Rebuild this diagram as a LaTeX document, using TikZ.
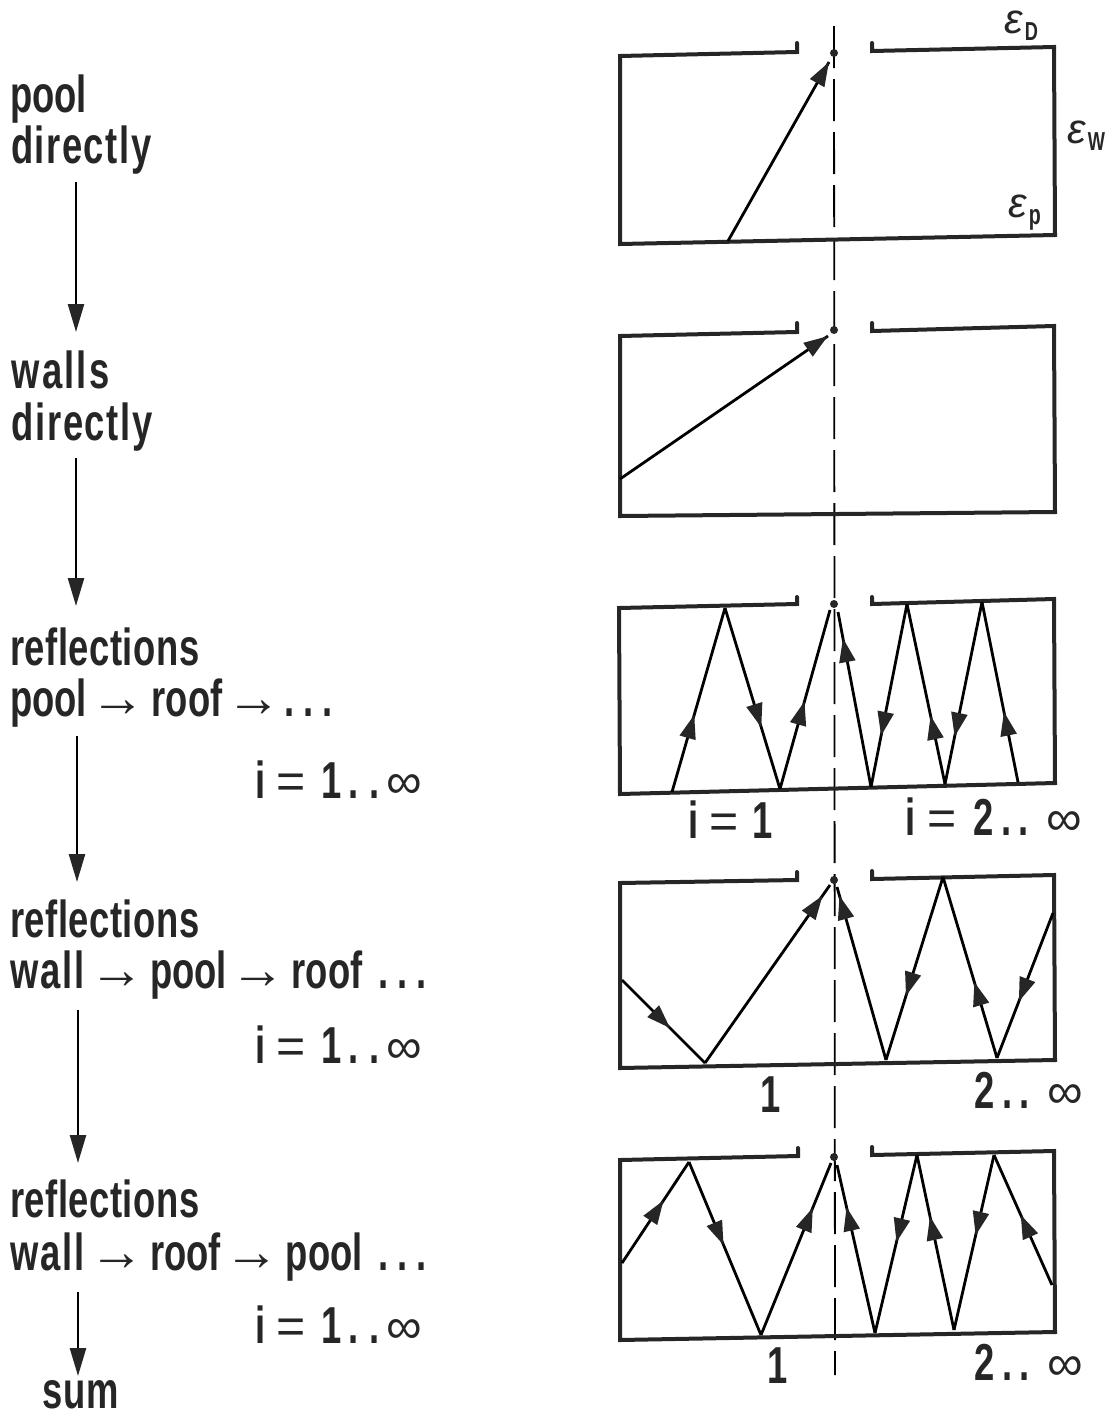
\documentclass[tikz,border=0pt]{standalone}
\usepackage{fontspec}
\setmainfont{Liberation Sans}[FakeStretch=0.70]
\newfontfamily\gk{Liberation Sans}
\usetikzlibrary{arrows.meta,decorations.markings}
\definecolor{ink}{HTML}{262626}
\tikzset{
  lab/.style={anchor=base west,inner sep=0pt,outer sep=0pt,font=\fontsize{52}{52}\selectfont\bfseries,text=ink},
  sm/.style={anchor=base west,inner sep=0pt,outer sep=0pt,text=ink},
  wallb/.style={draw=ink,line width=4pt,line join=miter,line cap=round},
  flow/.style={draw=black,line width=2.6pt,-{Triangle[length=28pt,width=16pt,color=ink]}},
  ray/.style={draw=black,line width=2.8pt},
  tipat/.style={postaction={decorate,decoration={markings,mark=at position #1 with {\arrow{Triangle[length=24pt,width=16pt,color=ink]}}}}},
  axis/.style={draw=black,line width=1.8pt,dash pattern=on 42pt off 11pt},
  focus/.style={circle,fill=ink,inner sep=0pt,minimum size=8pt}
}
\newcommand{\eps}[2]{{\gk\mdseries\fontsize{42}{42}\selectfont\textit{ε}}\kern2pt\raisebox{-7pt}{\fontsize{#1}{#1}\selectfont\bfseries #2}}
\newcommand{\arr}{\kern4pt{\gk\mdseries\fontsize{55}{55}\selectfont →}\kern6pt}
\newcommand{\eqq}{{\gk\mdseries\fontsize{50}{50}\selectfont =}}
\newcommand{\inft}{{\gk\mdseries\fontsize{50}{50}\selectfont ∞}}
\newcommand{\ddd}{\kern10pt.\kern9pt.\kern9pt.}
\newcommand{\irange}[1]{i\kern11pt\eqq\kern16pt#1\kern7pt.\kern11pt.\kern7pt\inft}
\newcommand{\tworange}{2\kern8pt.\kern7pt.\kern18pt\inft}
\newcommand{\wallw}{{\addfontfeature{LetterSpace=4}wall}}
\begin{document}
\begin{tikzpicture}[x=1pt,y=-1pt]
\useasboundingbox (0,0) rectangle (1116,1417);
% axis
\coordinate (axT) at (834,26); \coordinate (axB) at (835,1375);
\draw[axis] (axT) -- (axB);
% box 1
\draw[wallb] (797,43) -- (797,52) -- (620,56) -- (620,244) -- (1055,235) -- (1054,47) -- (872,51) -- (872,43);
\node[focus] (f1) at (834,53) {};
\coordinate (r1a) at (728,241);
\draw[ray,tipat=0.999] (r1a) -- (829,62);
% box 2
\draw[wallb] (797,323) -- (797,332) -- (620,336) -- (620,516) -- (1055,512) -- (1054,326) -- (872,331) -- (872,323);
\node[focus] (f2) at (834,330) {};
\coordinate (r2a) at (620,479);
\draw[ray,tipat=0.999] (r2a) -- (828,336);
% box 3
\draw[wallb] (797,597) -- (797,604) -- (619,608) -- (620,794) -- (1055,783) -- (1054,599) -- (872,604) -- (872,597);
\node[focus] (f3) at (834,604) {};
\draw[ray,tipat=0.42] (672,792) -- (725,608);
\draw[ray,tipat=0.66] (725,608) -- (780,789);
\draw[ray,tipat=0.49] (780,789) -- (830,610);
\draw[ray,tipat=0.85] (871,787) -- (838,612);
\draw[ray,tipat=0.72] (907,604) -- (871,787);
\draw[ray,tipat=0.38] (945,784) -- (907,604);
\draw[ray,tipat=0.74] (982,602) -- (945,784);
\draw[ray,tipat=0.39] (1018,782) -- (982,602);
% box 4
\draw[wallb] (797,872) -- (797,880) -- (620,883) -- (620,1068) -- (1055,1060) -- (1054,875) -- (872,879) -- (872,871);
\node[focus] (f4) at (834,880) {};
\draw[ray,tipat=0.58] (622,980) -- (705,1063);
\draw[ray,tipat=0.94] (705,1063) -- (830,885);
\draw[ray,tipat=0.95] (886,1060) -- (837,887);
\draw[ray,tipat=0.65] (943,877) -- (886,1060);
\draw[ray,tipat=0.42] (997,1058) -- (943,877);
\draw[ray,tipat=0.61] (1053,913) -- (997,1058);
% box 5
\draw[wallb] (798,1148) -- (798,1156) -- (620,1160) -- (620,1340) -- (1055,1332) -- (1054,1151) -- (872,1155) -- (872,1147);
\node[focus] (f5) at (834,1157) {};
\draw[ray,tipat=0.62] (622,1263) -- (689,1162);
\draw[ray,tipat=0.48] (689,1162) -- (761,1335);
\draw[ray,tipat=0.74] (761,1335) -- (831,1163);
\draw[ray,tipat=0.75] (875,1333) -- (837,1165);
\draw[ray,tipat=0.49] (917,1155) -- (875,1333);
\draw[ray,tipat=0.65] (954,1330) -- (917,1155);
\draw[ray,tipat=0.46] (994,1155) -- (954,1330);
\draw[ray,tipat=0.54] (1052,1285) -- (994,1155);
% left column
\node[lab] (t1a) at (10,112) {pool};
\node[lab] (t1b) at (11,163) {\addfontfeature{LetterSpace=3}directly};
\node[lab] (t2a) at (12,388) {\addfontfeature{LetterSpace=4}walls};
\node[lab] (t2b) at (12,440) {\addfontfeature{LetterSpace=3}directly};
\node[lab] (t3a) at (10,665) {\addfontfeature{LetterSpace=1}reflections};
\node[lab] (t3b) at (10,716) {pool\arr roof\arr\kern-13pt\ddd};
\node[lab] (t3c) at (255,798) {\irange{1}};
\node[lab] (t4a) at (10,937) {\addfontfeature{LetterSpace=1}reflections};
\node[lab] (t4b) at (10,988) {\wallw\arr pool\arr roof\kern6pt\ddd};
\node[lab] (t4c) at (255,1063) {\irange{1}};
\node[lab] (t5a) at (10,1217) {\addfontfeature{LetterSpace=1}reflections};
\node[lab] (t5b) at (10,1270) {\wallw\arr roof\arr pool\kern6pt\ddd};
\node[lab] (t5c) at (255,1343) {\irange{1}};
\node[lab] (t6) at (42,1408) {\addfontfeature{LetterSpace=2}sum};
% left arrows
\coordinate (a1) at (76,182); \coordinate (a1e) at (76,332);
\coordinate (a2) at (76,458); \coordinate (a2e) at (76,606);
\coordinate (a3) at (77,736); \coordinate (a3e) at (77,882);
\coordinate (a4) at (78,1010); \coordinate (a4e) at (78,1163);
\coordinate (a5) at (78,1292); \coordinate (a5e) at (78,1376);
\draw[flow] (a1) -- (a1e);
\draw[flow] (a2) -- (a2e);
\draw[flow] (a3) -- (a3e);
\draw[flow] (a4) -- (a4e);
\draw[flow] (a5) -- (a5e);
% box labels
\node[lab] (l3a) at (688,838) {i\kern11pt\eqq\kern14pt 1};
\node[lab] (l3b) at (905,835) {i\kern12pt\eqq\kern17pt\tworange};
\node[lab] (l4a) at (760,1112) {1};
\node[lab] (l4b) at (974,1108) {\tworange};
\node[lab] (l5a) at (767,1383) {1};
\node[lab] (l5b) at (974,1380) {\tworange};
\node[sm] (eD) at (1004,33) {\eps{26}{D}};
\node[sm] (eW) at (1067,143) {\eps{26}{W}};
\node[sm] (eP) at (1008,217) {\eps{28}{p}};
\end{tikzpicture}
\end{document}
